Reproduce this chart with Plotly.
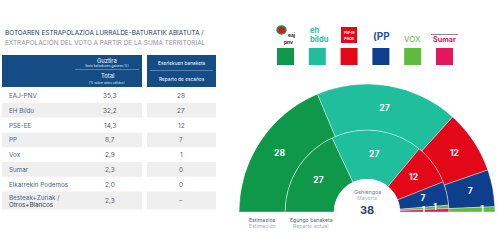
import plotly.graph_objects as go
import numpy as np

# ---------------- data ----------------
table_parties = ["EAJ-PNV", "EH Bildu", "PSE-EE", "PP", "Vox", "Sumar",
                 "Elkarrekin Podemos", "Besteak+Zuriak /<br>Otros+Blancos"]
table_votes = ["35,3", "32,2", "14,3", "8,7", "2,9", "2,3", "2,0", "2,3"]
table_seats = ["28", "27", "12", "7", "1", "0", "0", "–"]

hemi_parties = ["EAJ-PNV", "EH Bildu", "PSE-EE", "PP", "Vox", "Sumar"]
seats_estimate = [28, 27, 12, 7, 1, 0]
seats_current = [27, 27, 12, 7, 1, 1]
party_colors = ["#10984a", "#1fbf9d", "#e3071a", "#0d3f8c", "#5dbb3f", "#e3175e"]

title_eu = "BOTOAREN ESTRAPOLAZIOA LURRALDE-BATURATIK ABIATUTA /"
title_es = "EXTRAPOLACIÓN DEL VOTO A PARTIR DE LA SUMA TERRITORIAL"
majority = 38

# ---------------- helpers ----------------
W, H = 500, 240
FONT = "Inter"
def px(x):
    return x / W
def py(y):
    return 1 - y / H

fig = go.Figure()
shapes = []
ann = []

def text(x, y, s, size, color, bold=False, anchor="center", family=FONT):
    if bold:
        s = "<b>" + s + "</b>"
    ann.append(dict(x=px(x), y=py(y), xref="paper", yref="paper", text=s,
                    showarrow=False, xanchor=anchor, yanchor="middle",
                    font=dict(size=size, color=color, family=family)))

def rect(x0, y0, x1, y1, fill, line=None):
    shapes.append(dict(type="rect", xref="paper", yref="paper",
                       x0=px(x0), x1=px(x1), y0=py(y1), y1=py(y0),
                       fillcolor=fill, line=dict(width=0) if line is None else line,
                       layer="below"))

def hline(x0, x1, y, color, w=0.6):
    shapes.append(dict(type="line", xref="paper", yref="paper",
                       x0=px(x0), x1=px(x1), y0=py(y), y1=py(y),
                       line=dict(color=color, width=w)))

# ---------------- title ----------------
text(3, 33, title_eu, 6.4, "#1d3b63", anchor="left")
text(3, 42, title_es, 6.4, "#8d949c", anchor="left")

# ---------------- table ----------------
HDR = "#144c86"
rect(2, 55, 142, 87, HDR)
rect(147, 55, 216, 87, HDR)
text(107, 60, "Guztira", 5.8, "white")
text(107, 65.5, "(boto baliodunen gainean %)", 3.2, "#dfe8f2")
hline(75, 139, 69.5, "rgba(255,255,255,0.6)", 0.5)
text(107, 75, "Total", 5.8, "white")
text(107, 83, "(% sobre votos válidos)", 3.2, "#dfe8f2")
text(181.5, 63, "Eserlekuen banaketa", 4.8, "white")
hline(150, 213, 70.5, "rgba(255,255,255,0.6)", 0.5)
text(181.5, 78.5, "Reparto de escaños", 4.8, "white")

row_top = 88.0
row_h = 14.8
last_h = 18.0
y = row_top
for i, name in enumerate(table_parties):
    h = last_h if i == len(table_parties) - 1 else row_h
    if i % 2 == 1:
        rect(2, y, 142, y + h, "#efefef")
        rect(147, y, 216, y + h, "#efefef")
    cy = y + h / 2 + 0.5
    if "<br>" in name:
        a, b = name.split("<br>")
        text(7, cy - 3.3, a, 6.3, "#4a6482", anchor="left")
        text(7, cy + 3.5, b, 6.3, "#2f3a48", anchor="left")
    else:
        text(7, cy, name, 6.3, "#4a6482", anchor="left")
    text(110, cy, table_votes[i], 6.5, "#5a6068")
    text(181, cy, table_seats[i], 6.5, "#5a6068")
    y += h

# ---------------- legend (logos + squares) ----------------
sq0, pitch, sqs = 277, 31.8, 17
for i, c in enumerate(party_colors):
    x0 = sq0 + i * pitch
    rect(x0, 48, x0 + sqs, 65, c)
# EAJ-PNV logo approximation
shapes.append(dict(type="circle", xref="paper", yref="paper",
                   x0=px(277), x1=px(286), y0=py(34), y1=py(26),
                   fillcolor="#d71920", line=dict(color="#10984a", width=1.4)))
text(291.5, 35, "eaj", 4.8, "#222222", bold=True)
text(288, 41.8, "pnv", 4.8, "#222222", bold=True)
# EH Bildu
text(307.5, 31, "eh", 7.6, "#1fbf9d", bold=True, anchor="left")
text(307.5, 40, "bildu", 7.6, "#1fbf9d", bold=True, anchor="left")
# PSE
rect(341, 27, 357, 43, "#e3071a")
text(349, 33, "PSE-EE", 3.0, "white", bold=True)
text(349, 38.5, "PSOE", 3.8, "white", bold=True)
# PP
text(381.5, 36, "(PP", 10, "#1d58a6", bold=True)
# VOX
text(412.5, 39, "VOX", 8, "#5dbb3f")
# Sumar
hline(431, 458, 34.5, "#8a8a8a", 1)
text(444.5, 40, "Sumar", 7.2, "#e3175e", bold=True)

# ---------------- hemicycle ----------------
CX, CY = 367, 212
R_OUT, R_MID, R_HOLE = 128, 82, 33
TOT = sum(seats_estimate)
inner_frac = (R_MID - R_HOLE) / (R_OUT - R_HOLE)

def ring(seats, base, length, name, label_r_frac):
    cum = np.cumsum([0] + seats)
    theta = [(cum[i] + seats[i] / 2) / TOT * 180 for i in range(len(seats))]
    width = [s / TOT * 180 for s in seats]
    fig.add_trace(go.Barpolar(
        r=[length] * len(seats), base=[base] * len(seats), theta=theta, width=width,
        marker=dict(color=party_colors, line=dict(color="rgba(255,255,255,0.55)", width=0.7)),
        name=name, showlegend=False, hoverinfo="skip"))
    lab_r, lab_t, lab_s = [], [], []
    for i, s in enumerate(seats):
        if s <= 0:
            continue
        rr = base + length * label_r_frac
        if s == 1:
            rr = base + length * (0.5 + 0.22 * (1 if i % 2 == 0 else -0.1))
        lab_r.append(rr)
        lab_t.append(theta[i])
        lab_s.append("<b>%d</b>" % s)
    fig.add_trace(go.Scatterpolar(
        r=lab_r, theta=lab_t, text=lab_s, mode="text",
        textfont=dict(color="white", size=8.5, family=FONT),
        showlegend=False, hoverinfo="skip"))

ring(seats_current, 0, inner_frac, "Egungo banaketa", 0.5)
ring(seats_estimate, inner_frac, 1 - inner_frac, "Estimazioa", 0.5)

fig.update_layout(polar=dict(
    domain=dict(x=[px(CX - R_OUT), px(CX + R_OUT)], y=[py(CY), py(CY - R_OUT)]),
    sector=[0, 180], hole=R_HOLE / R_OUT, bgcolor="rgba(0,0,0,0)",
    bargap=0,
    radialaxis=dict(range=[0, 1], visible=False, showgrid=False),
    angularaxis=dict(rotation=180, direction="clockwise", visible=False,
                     showgrid=False),
))

# center labels
text(CX, 192, "Gehiengoa", 5.3, "#6a7d93")
text(CX, 197.5, "Mayoría", 5.3, "#a7b2bd")
text(CX, 210, str(majority), 11, "#27476d", bold=True)
# ring labels
text(262, 219.5, "Estimazioa", 5.2, "#4f6278")
text(262, 226, "Estimación", 5.2, "#a4adb6")
text(311, 219.5, "Egungo banaketa", 5.2, "#4f6278")
text(311, 226, "Reparto actual", 5.2, "#a4adb6")

fig.update_layout(width=W, height=H, margin=dict(l=0, r=0, t=0, b=0),
                  paper_bgcolor="white", plot_bgcolor="white",
                  shapes=shapes, annotations=ann, showlegend=False,
                  xaxis=dict(visible=False), yaxis=dict(visible=False))
fig.write_html("out.html")
